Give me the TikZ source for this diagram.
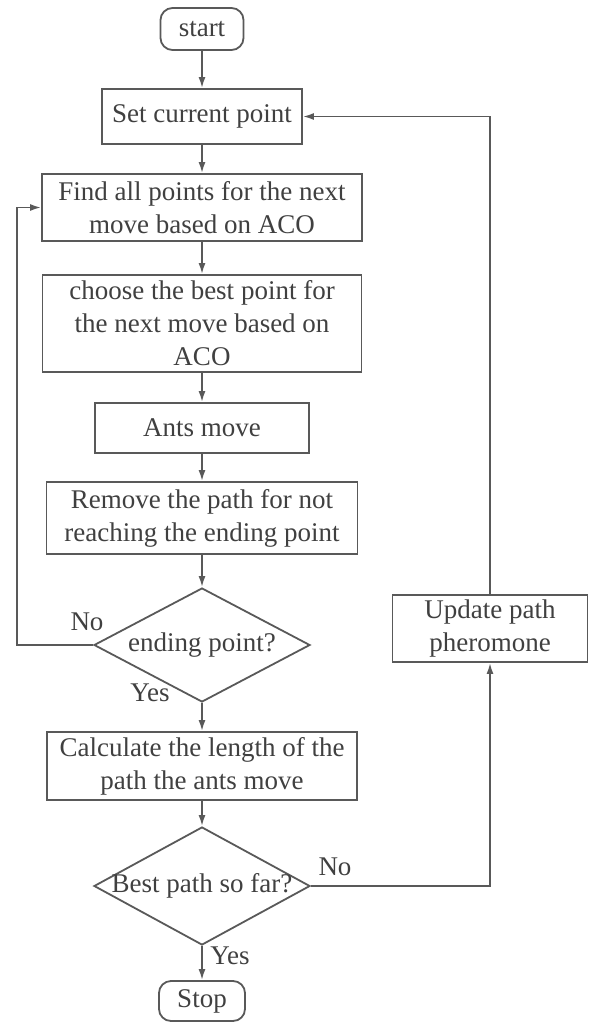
\documentclass[tikz,border=0pt]{standalone}
\usepackage{fontspec}
\setmainfont{Liberation Serif}
\usetikzlibrary{shapes.geometric,arrows.meta}

\tikzset{
  box/.style={draw=black!65,line width=1.8pt,inner sep=0pt,align=center,text=black!75},
  term/.style={box,rounded corners=12pt},
  dec/.style={draw=black!65,line width=1.8pt,diamond,inner sep=0pt},
  lbl/.style={text=black!75,inner sep=0pt},
  flow/.style={draw=black!65,line width=1.8pt,->},
}

\begin{document}
\begin{tikzpicture}[x=1pt,y=-1pt,>={Latex[length=11pt,width=7pt]},
    every node/.append style={font=\fontsize{27}{33}\selectfont}]
  \useasboundingbox (0,0) rectangle (589,1022);

  \node[term,minimum width=83pt,minimum height=42pt] (start) at (202,29) {start};
  \node[box,minimum width=200pt,minimum height=55pt] (set) at (202,116.5) {Set current point};
  \node[box,minimum width=320pt,minimum height=67pt] (find) at (202,207.5)
    {Find all points for the next\\move based on ACO};
  \node[box,minimum width=319pt,minimum height=97pt] (choose) at (202,323.5)
    {choose the best point for\\the next move based on\\ACO};
  \node[box,minimum width=214pt,minimum height=50pt] (ants) at (202,428) {Ants move};
  \node[box,minimum width=311pt,minimum height=72pt] (remove) at (202,518)
    {Remove the path for not\\reaching the ending point};
  \node[dec,minimum width=216pt,minimum height=114pt,
    label={[lbl,name=endingT]center:ending point?}] (ending) at (202,645) {};
  \node[box,minimum width=310pt,minimum height=68pt] (calc) at (202,766)
    {Calculate the length of the\\path the ants move};
  \node[dec,minimum width=216pt,minimum height=118pt,
    label={[lbl,name=bestT]center:Best path so far?}] (best) at (202,886) {};
  \node[term,minimum width=86pt,minimum height=40pt] (stop) at (202,1001) {Stop};
  \node[box,minimum width=195pt,minimum height=67pt] (update) at (490,628.5)
    {Update path\\pheromone};

  \foreach \a/\b in {start/set,set/find,find/choose,choose/ants,ants/remove,
      remove/ending,ending/calc,calc/best,best/stop}
    \draw[flow] (\a) -- (\b);

  \coordinate (loopx) at (17,0);
  \draw[flow] (ending.west) -- (ending.west -| loopx) |- (find.west);
  \draw[flow] (best.east) -| (update.south);
  \draw[flow] (update.north) |- (set.east);

  \node[lbl] (noA) at (87,622) {No};
  \node[lbl] (yesA) at (150,693) {Yes};
  \node[lbl] (noB) at (335,867) {No};
  \node[lbl] (yesB) at (230,956) {Yes};
\end{tikzpicture}
\end{document}
